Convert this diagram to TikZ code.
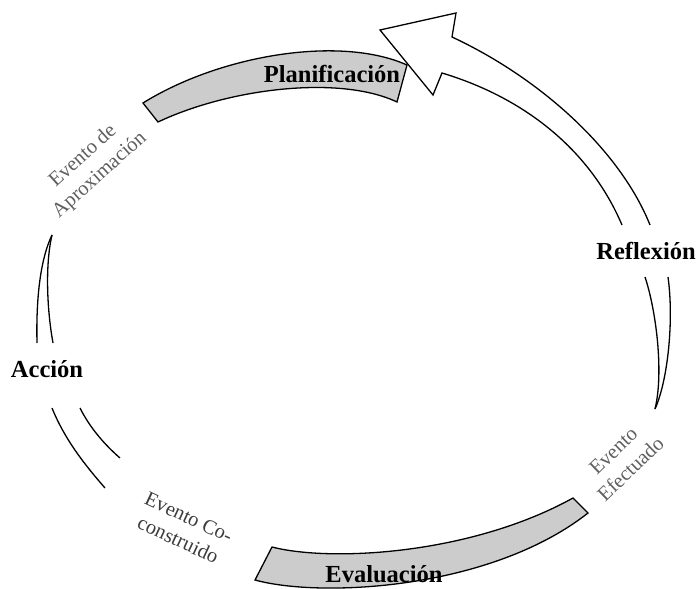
\documentclass[tikz,border=0pt]{standalone}
\usepackage{fontspec}
\setmainfont{Liberation Serif}
\definecolor{bandgray}{RGB}{204,204,204}
\definecolor{eventgray}{RGB}{95,95,95}
\definecolor{eventdark}{RGB}{60,60,60}
\begin{document}
\begin{tikzpicture}[x=1pt,y=-1pt,
  outline/.style={line width=1.3pt, line join=miter},
  bandfill/.style={outline, fill=bandgray},
  stagelabel/.style={font=\bfseries\fontsize{24.5}{28}\selectfont, inner sep=0pt},
  eventlabel/.style={font=\fontsize{20.5}{25}\selectfont, align=center, inner sep=0pt, text=eventgray}]
\useasboundingbox (0,0) rectangle (699,589);

% Planificacion band (top)
\draw[bandfill] (143,103) .. controls (220,55) and (340,35) .. (407,65)
  -- (397,102) .. controls (340,75) and (230,88) .. (158,122) -- cycle;

% Reflexion arrow rising to the top
\draw[outline, fill=white] (622,225) .. controls (590,150) and (525,98) .. (442,73)
  -- (433,95) -- (380,30) -- (456,13) -- (452,37)
  .. controls (540,78) and (620,150) .. (650,225);

% Tapered tail below Reflexion
\draw[outline] (645,277) .. controls (656,310) and (664,372) .. (655,409);
\draw[outline] (668,277) .. controls (674,320) and (668,380) .. (655,409);

% Evaluacion band (bottom)
\draw[bandfill] (272,547) .. controls (330,562) and (470,555) .. (573,498)
  -- (588,513) .. controls (490,590) and (320,598) .. (255,580) -- cycle;

% Accion: lines below the label
\draw[outline] (52,408) .. controls (65,440) and (85,465) .. (105,488);
\draw[outline] (80,408) .. controls (90,428) and (105,445) .. (120,458);

% Accion: tapered piece above the label
\draw[outline] (52,235) .. controls (40,260) and (36,300) .. (37,343);
\draw[outline] (52,235) .. controls (45,265) and (47,310) .. (53,343);

% Stage labels
\node[stagelabel, anchor=base] (plan) at (332,82) {Planificación};
\node[stagelabel, anchor=base] (refl) at (646,259) {Reflexión};
\node[stagelabel, anchor=base] (eval) at (384,582) {Evaluación};
\node[stagelabel, anchor=base] (acc) at (47,377) {Acción};

% Event labels
\node[eventlabel, rotate=42] (aprox) at (91.5,166) {Evento de\\Aproximación};
\node[eventlabel, rotate=-25, text=eventdark] (cocon) at (183.5,528.5) {Evento Co-\\construido};
\node[eventlabel, rotate=44] (efect) at (622,460) {Evento\\Efectuado};
\end{tikzpicture}
\end{document}
